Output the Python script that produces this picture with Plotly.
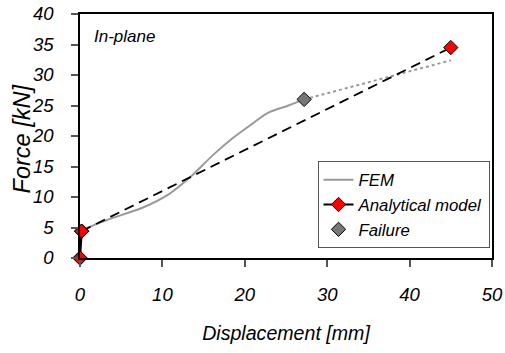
import plotly.graph_objects as go

# FEM curve (displacement mm, force kN)
fem_disp = [0.2, 3.4, 7.5, 10.7, 13.5, 16.0, 18.4, 20.8, 22.8, 25.3, 27.2]
fem_force = [4.6, 6.3, 8.2, 10.4, 13.4, 16.7, 19.5, 21.9, 23.8, 25.0, 26.0]
# FEM extrapolation (dotted)
fem_ext_disp = [27.2, 45.0]
fem_ext_force = [26.0, 32.4]
# Analytical model
ana_disp = [0.0, 0.2, 45.0]
ana_force = [0.0, 4.4, 34.5]
# Failure point
fail_disp = [27.2]
fail_force = [26.0]

FONT = "Liberation Sans, Arial, sans-serif"

fig = go.Figure()
fig.add_trace(go.Scatter(
    x=fem_disp, y=fem_force, mode="lines", name="FEM",
    line=dict(color="#999999", width=2, shape="spline", smoothing=0.8),
))
fig.add_trace(go.Scatter(
    x=fem_ext_disp, y=fem_ext_force, mode="lines", showlegend=False,
    line=dict(color="#999999", width=2, dash="dot"),
))
fig.add_trace(go.Scatter(
    x=ana_disp[1:], y=ana_force[1:], mode="lines", showlegend=False,
    line=dict(color="black", width=1.8, dash="10px,6px"),
))
fig.add_trace(go.Scatter(
    x=ana_disp, y=ana_force, mode="markers", showlegend=False,
    marker=dict(symbol="diamond", size=11, color="#ff0000",
                line=dict(color="black", width=1)),
    cliponaxis=False,
))
fig.add_trace(go.Scatter(
    x=ana_disp[:2], y=ana_force[:2], mode="lines+markers", name="Analytical model",
    line=dict(color="black", width=2.2),
    marker=dict(symbol="diamond", size=11, color="#ff0000",
                line=dict(color="black", width=1)),
    cliponaxis=False,
))
fig.add_trace(go.Scatter(
    x=fail_disp, y=fail_force, mode="markers", name="Failure",
    marker=dict(symbol="diamond", size=11, color="#777777",
                line=dict(color="black", width=1)),
    cliponaxis=False,
))

fig.update_layout(
    width=505, height=353,
    margin=dict(l=80, r=13, t=14, b=95),
    paper_bgcolor="white", plot_bgcolor="white",
    font=dict(family=FONT, color="black"),
    showlegend=True,
    legend=dict(
        x=0.994, y=0.04, xanchor="right", yanchor="bottom",
        bgcolor="white", bordercolor="#555555", borderwidth=1,
        font=dict(family=FONT, size=16.8, style="italic"),
        traceorder="normal",
    ),
    annotations=[
        dict(text="In-plane", xref="paper", yref="paper", x=0.028, y=0.906,
             xanchor="left", yanchor="middle", showarrow=False,
             font=dict(family=FONT, size=17, style="italic")),
        dict(text="Force [kN]", xref="paper", yref="paper",
             x=-0.1408, y=0.49, xanchor="center", yanchor="middle",
             textangle=-90, showarrow=False,
             font=dict(family=FONT, size=23.5, style="italic")),
    ],
)
fig.update_xaxes(
    range=[0, 50], dtick=10, tick0=0, automargin=False,
    showgrid=False, zeroline=False,
    showline=True, linecolor="black", linewidth=1.5, mirror=True,
    ticks="outside", ticklen=7, tickcolor="#555555", tickwidth=1.5,
    ticklabelstandoff=12,
    tickfont=dict(family=FONT, size=18.5, style="italic"),
    title=dict(text="Displacement [mm]", standoff=22,
               font=dict(family=FONT, size=19.6, style="italic")),
)
fig.update_yaxes(
    range=[0, 40], dtick=5, tick0=0, automargin=False,
    showgrid=False, zeroline=False,
    showline=True, linecolor="black", linewidth=1.5, mirror=True,
    ticks="outside", ticklen=7, tickcolor="#555555", tickwidth=1.5,
    ticklabelstandoff=14,
    tickfont=dict(family=FONT, size=18.5, style="italic"),
)

fig.write_html("out.html", post_script="document.body.style.margin='0';",
               config={"displayModeBar": False})
